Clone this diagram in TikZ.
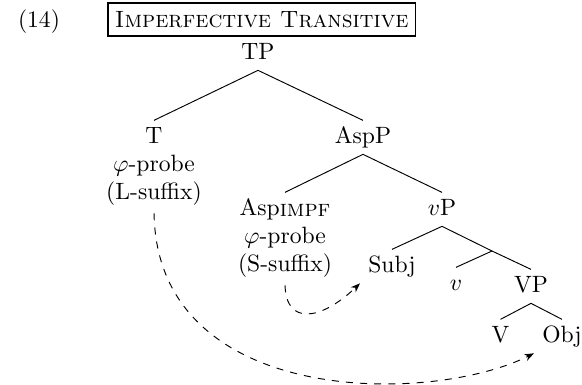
\documentclass[tikz,border=0pt]{standalone}
\usetikzlibrary{arrows.meta}
\begin{document}
\begin{tikzpicture}[x=0.4237pt,y=-0.4237pt,
  lab/.style={inner xsep=3.33pt, inner ysep=1pt, anchor=base, execute at begin node=\strut},
  mlab/.style={inner xsep=3.33pt, inner ysep=1pt, anchor=base},
  branch/.style={line width=0.4pt},
  agree/.style={dashed, line width=0.4pt, -{Stealth[length=4pt,width=3pt]}},
  titlebox/.style={draw, line width=0.8pt, inner xsep=3pt, anchor=west, minimum height=13.2pt}
]
\useasboundingbox (0,0) rectangle (582,385);

% example number and title
\node[anchor=base] (num) at (39,27) {(14)};
\node[titlebox] (title) at (106.9,19.5) {\textsc{Imperfective Transitive}};

% tree nodes
\node[lab] (TP) at (258,59) {TP};
\node[mlab] (T) at (154,143) {\begin{tabular}[t]{@{}c@{}}T\\$\varphi$-probe\\(L-suffix)\end{tabular}};
\node[lab] (AspP) at (363,143) {AspP};
\node[mlab] (Asp) at (285,215) {\begin{tabular}[t]{@{}c@{}}Asp\raisebox{-0.5pt}{\textsc{impf}}\\$\varphi$-probe\\(S-suffix)\end{tabular}};
\node[lab] (vP) at (442,215) {$v$P};
\node[lab] (Subj) at (392,272) {Subj};
\coordinate (vbar) at (492,251);
\node[lab] (v) at (456,290) {$v$};
\node[lab] (VP) at (531,292) {VP};
\node[lab] (V) at (500.5,342) {V};
\node[lab] (Obj) at (562,342) {Obj};

% branches
\draw[branch] (TP.south) -- (T.north);
\draw[branch] (TP.south) -- (AspP.north);
\draw[branch] (AspP.south) -- (Asp.north);
\draw[branch] (AspP.south) -- (vP.north);
\draw[branch] (vP.south) -- (Subj.north);
\draw[branch] (vP.south) -- (vbar);
\draw[branch] (vbar) -- (v.north);
\draw[branch] (vbar) -- (VP.north);
\draw[branch] (VP.south) -- (V.north);
\draw[branch] (VP.south) -- (Obj.north);

% agreement arrows
\draw[agree, shorten <=1pt] (Asp.south) .. controls +(1,42) and +(-40,38) .. (Subj.south west);
\draw[agree, shorten <=1pt] (T.south) .. controls +(3,196) and +(-104,52) .. (Obj.south west);
\end{tikzpicture}
\end{document}
